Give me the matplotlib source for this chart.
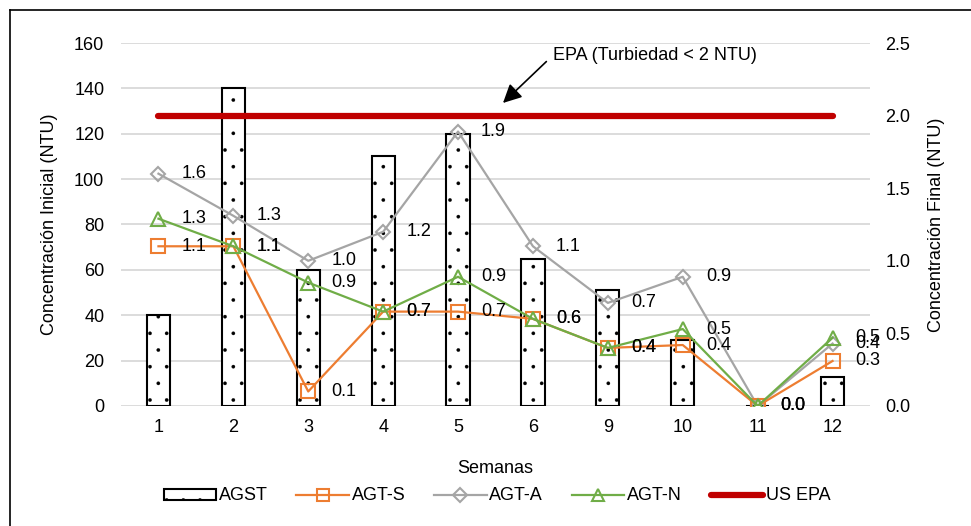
import matplotlib.pyplot as plt
from matplotlib.patches import Patch
from matplotlib.lines import Line2D
import numpy as np

plt.rcParams['font.family'] = ['Liberation Sans', 'DejaVu Sans']
plt.rcParams['hatch.linewidth'] = 0.2

# datos
semanas = ["1", "2", "3", "4", "5", "6", "9", "10", "11", "12"]
agst = [40, 140, 60, 110, 120, 65, 51, 29, 0, 13]          # eje izquierdo
agt_s = [1.10, 1.10, 0.10, 0.65, 0.65, 0.60, 0.40, 0.42, 0.0, 0.31]
agt_a = [1.60, 1.31, 1.00, 1.20, 1.89, 1.10, 0.71, 0.89, 0.0, 0.43]
agt_n = [1.29, 1.10, 0.85, 0.65, 0.89, 0.60, 0.40, 0.53, 0.0, 0.47]
epa = [2.0] * len(semanas)

lab_s = ["1.1", "1.1", "0.1", "0.7", "0.7", "0.6", "0.4", "0.4", "0.0", "0.3"]
lab_a = ["1.6", "1.3", "1.0", "1.2", "1.9", "1.1", "0.7", "0.9", "0.0", "0.4"]
lab_n = ["1.3", "1.1", "0.9", "0.7", "0.9", "0.6", "0.4", "0.5", "0.0", "0.5"]

c_s, c_a, c_n, c_epa = "#ED7D31", "#A5A5A5", "#70AD47", "#C00000"

W, H = 971, 526
fig = plt.figure(figsize=(W / 100, H / 100), dpi=100)
ax = fig.add_axes([121 / W, 1 - 406 / H, 749 / W, 363 / H])
ax2 = ax.twinx()

x = np.arange(len(semanas))

ax.bar(x, agst, width=0.31, color="white", edgecolor="black", linewidth=1.5,
       hatch=".", zorder=2)
ax.set_ylim(0, 160)
ax.set_yticks(range(0, 161, 20))
ax.set_xlim(-0.5, len(semanas) - 0.5)
ax.set_xticks(x)
ax.set_xticklabels(semanas)
ax.grid(axis="y", color="#d9d9d9", linewidth=1.3, zorder=0)
ax.set_axisbelow(True)
for sp in ax.spines.values():
    sp.set_visible(False)
for sp in ax2.spines.values():
    sp.set_visible(False)
ax.tick_params(axis="both", length=0, labelsize=13)
ax.tick_params(axis="y", pad=12)
ax.tick_params(axis="x", pad=9)

ax.set_ylabel("Concentración Inicial (NTU)", fontsize=13)
ax.yaxis.set_label_coords(-0.084, 0.5)
ax.set_xlabel("Semanas", fontsize=13)
ax.xaxis.set_label_coords(0.5, -0.149)

# eje derecho
ax2.plot(x, epa, color=c_epa, linewidth=4.5, solid_capstyle="round", zorder=1)
ax2.plot(x, agt_a, color=c_a, linewidth=1.6, marker="D", markersize=7.5,
         markerfacecolor="none", markeredgecolor=c_a, markeredgewidth=1.5)
ax2.plot(x, agt_s, color=c_s, linewidth=1.6, marker="s", markersize=10,
         markerfacecolor="none", markeredgecolor=c_s, markeredgewidth=1.5)
ax2.plot(x, agt_n, color=c_n, linewidth=1.6, marker="^", markersize=10,
         markerfacecolor="none", markeredgecolor=c_n, markeredgewidth=1.5)

for vals, labs in [(agt_a, lab_a), (agt_s, lab_s), (agt_n, lab_n)]:
    for xi, v, t in zip(x, vals, labs):
        ax2.annotate(t, (xi, v), xytext=(23, 0), textcoords="offset pixels",
                     ha="left", va="center", fontsize=13)

ax2.set_ylim(0, 2.5)
ax2.set_yticks(np.arange(0, 2.51, 0.5))
ax2.set_yticklabels([f"{v:.1f}" for v in np.arange(0, 2.51, 0.5)])
ax2.tick_params(axis="y", length=0, labelsize=13, pad=11)
ax2.set_ylabel("Concentración Final (NTU)", fontsize=13, rotation=90)
ax2.yaxis.set_label_coords(1.078, 0.5)

ax2.annotate("EPA (Turbiedad < 2 NTU)", xy=(4.6, 2.087), xytext=(5.27, 2.417),
             ha="left", va="center", fontsize=13,
             arrowprops=dict(arrowstyle="-|>,head_length=0.8,head_width=0.4",
                             color="black", lw=1.2, relpos=(0, 0.5),
                             shrinkA=4, shrinkB=0, mutation_scale=14))

handles = [
    Patch(facecolor="white", edgecolor="black", linewidth=1.5, hatch="."),
    Line2D([], [], color=c_s, lw=1.6, marker="s", markersize=9,
           markerfacecolor="none", markeredgewidth=1.5),
    Line2D([], [], color=c_a, lw=1.6, marker="D", markersize=7,
           markerfacecolor="none", markeredgewidth=1.5),
    Line2D([], [], color=c_n, lw=1.6, marker="^", markersize=9,
           markerfacecolor="none", markeredgewidth=1.5),
    Line2D([], [], color=c_epa, lw=4.5, solid_capstyle="round"),
]
fig.legend(handles, ["AGST", "AGT-S", "AGT-A", "AGT-N", "US EPA"],
           loc="center", bbox_to_anchor=(497 / W, 1 - 496 / H), ncol=5,
           frameon=False, fontsize=13, handlelength=2.9, handletextpad=0.15,
           columnspacing=1.6, handleheight=0.55)

# marco
fig.add_artist(Line2D([10 / W, 10 / W], [0, 1 - 10 / H], color="black", lw=1.2,
                      transform=fig.transFigure))
fig.add_artist(Line2D([10 / W, 1], [1 - 10 / H, 1 - 10 / H], color="black", lw=1.2,
                      transform=fig.transFigure))

fig.savefig("out.png", dpi=100)
